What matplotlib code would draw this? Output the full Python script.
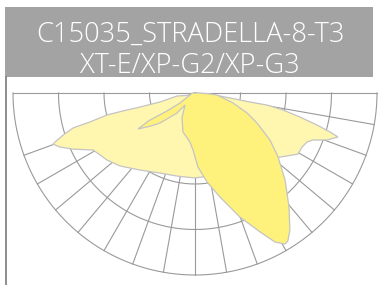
import numpy as np
import matplotlib
matplotlib.use("Agg")
import matplotlib.pyplot as plt
from matplotlib.patches import Rectangle
from matplotlib.lines import Line2D

# header text
title_lines = ["C15035_STRADELLA-8-T3", "XT-E/XP-G2/XP-G3"]

# grid: rings (relative intensity) and spokes (degrees from nadir)
ring_values = [0.25, 0.5, 0.75, 1.0]
spoke_angles = [-70, -60, -50, -40, -30, -20, -10, 0, 10, 20, 30, 40, 50, 60, 70, 80]

# wide batwing curve (light yellow): angle from nadir [deg], relative intensity
wide_angle = [-70.2, -70.7, -72.3, -74.0, -74.6, -76.0, -76.0, -75.7, -75.6, -80.5,
              86.0, 81.2, 80.7, 80.5, 79.1, 77.1, 75.3, 73.9, 72.9,
              70.4, 68.3, 66.4, 63.2, 59.4, 57.7, 53.0, 31.0, 10.2, 0.0,
              -12.2, -23.6, -35.5, -45.8, -52.7, -56.9, -60.8, -65.3, -68.2]
wide_int = [0.829, 0.815, 0.761, 0.697, 0.598, 0.498, 0.408, 0.312, 0.199, 0.100,
            0.082, 0.250, 0.306, 0.401, 0.492, 0.592, 0.693, 0.772, 0.822,
            0.770, 0.698, 0.672, 0.659, 0.658, 0.637, 0.585, 0.480, 0.463, 0.467,
            0.467, 0.480, 0.520, 0.575, 0.608, 0.623, 0.642, 0.738, 0.799]

# forward throw curve (yellow)
throw_angle = [-90.0, 90.0, 86.2, 84.8, 75.3, 69.0, 64.2, 57.9, 52.4, 46.0, 39.5,
               34.7, 32.1, 30.8, 28.2, 25.1, 19.9, 13.5, 7.7, 2.3, -2.0, -5.8,
               -17.1, -27.5, -39.8, -42.0, -49.4, -53.0, -57.7, -59.0, -57.3,
               -56.3, -68.2]
throw_int = [0.016, 0.027, 0.082, 0.121, 0.216, 0.306, 0.378, 0.486, 0.576, 0.688, 0.812,
             0.916, 0.960, 0.966, 0.929, 0.843, 0.725, 0.588, 0.493, 0.407, 0.313, 0.271,
             0.224, 0.155, 0.086, 0.148, 0.253, 0.300, 0.370, 0.295, 0.183,
             0.099, 0.030]


def to_xy(angle_deg, r):
    # angle measured from nadir, positive to the right
    a = np.radians(np.asarray(angle_deg, dtype=float))
    r = np.asarray(r, dtype=float)
    return r * np.sin(a), -r * np.cos(a)


fig = plt.figure(figsize=(3.79, 2.85), dpi=100)
W, H = 379, 285

# grey title box
fig.patches.append(Rectangle((5 / W, 1 - 77 / H), 368 / W, 70 / H,
                             transform=fig.transFigure, facecolor="#a3a3a3",
                             edgecolor="none"))
# one two-line text; baseline alignment follows the last line
fig.text(190 / W, 1 - 73 / H, "\n".join(title_lines), ha="center", va="baseline",
         multialignment="center", linespacing=1.16,
         color="white", fontsize=19.6, family="Open Sans", weight="light")

# left vertical rule
fig.lines.append(Line2D([5.5 / W, 5.5 / W], [0, 1 - 77 / H],
                        transform=fig.transFigure, color="#7a7a7a", lw=1.2))

ax = fig.add_axes([13 / W, 10 / H, 364 / W, 182 / H])
ax.set_xlim(-1, 1)
ax.set_ylim(-1, 0)
ax.set_aspect("equal")
ax.axis("off")

grid_kw = dict(color="#9a9a9a", lw=0.8, zorder=1, clip_on=False)
arc = np.linspace(-90, 90, 181)
for rv in ring_values:
    ax.plot(*to_xy(arc, np.full_like(arc, rv)), **grid_kw)
for sa in spoke_angles:
    ax.plot(*to_xy([sa, sa], [0, 1]), **grid_kw)
ax.plot(*to_xy([-90, 90], [1, 1]), **grid_kw)

ax.fill(*to_xy(wide_angle, wide_int), facecolor="#fff6b0",
        edgecolor="#c4c4c4", lw=0.9, zorder=3, clip_on=False)
ax.fill(*to_xy(throw_angle, throw_int), facecolor="#fff27c",
        edgecolor="#c4c4c4", lw=0.9, zorder=4, clip_on=False)

fig.savefig("out.png", dpi=100)
